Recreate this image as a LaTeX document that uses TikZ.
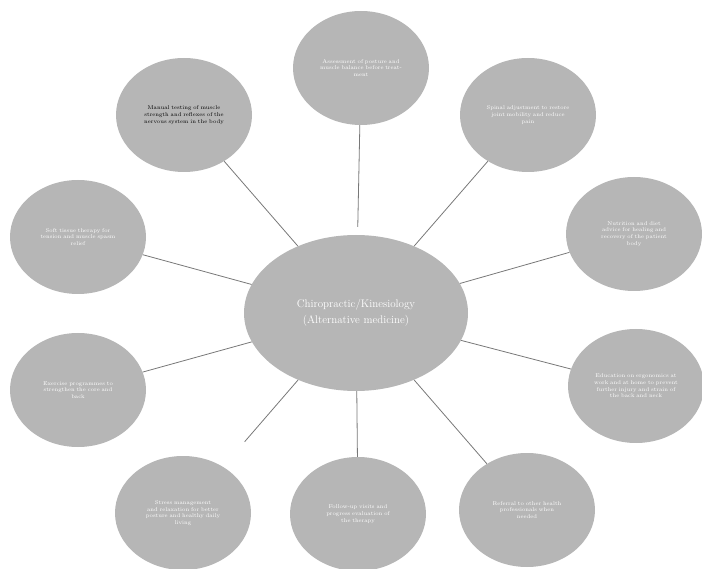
\documentclass[tikz,border=0pt]{standalone}
\usepackage{tikz}
\usetikzlibrary{shapes.geometric}
\definecolor{bubblegray}{RGB}{182,182,182}
\definecolor{linkgray}{RGB}{120,120,120}
\tikzset{
    bubble/.style={ellipse, fill=bubblegray, align=center, inner sep=0pt, minimum width=136pt, minimum height=114pt, text width=84pt, text=white, font=\fontsize{5.5}{6.7}\selectfont},
    hub/.style={bubble, minimum width=224pt, minimum height=156pt, text width=150pt, font=\fontsize{11}{16}\selectfont},
    link/.style={draw=linkgray, line width=0.8pt}
}

\begin{document}
\begin{tikzpicture}[x=1pt, y=-1pt]
            \useasboundingbox (0,0) rectangle (702,569);

            \node[hub] (hub) at (356,313) {Chiropractic/Kinesiology\\(Alternative medicine)};

            \node[bubble] (top) at (361,68) {Assessment of posture and\\muscle balance before treat-\\ment};
            \node[bubble, text=black] (topleft) at (184,115) {Manual testing of muscle\\strength and reflexes of the\\nervous system in the body};
            \node[bubble] (topright) at (528,115) {Spinal adjustment to restore\\joint mobility and reduce\\pain};
            \node[bubble] (left) at (78,237) {Soft tissue therapy for\\tension and muscle spasm\\relief};
            \node[bubble] (right) at (634,234) {Nutrition and diet\\advice for healing and\\recovery of the patient\\body};
            \node[bubble] (leftlow) at (78,390) {Exercise programmes to\\strengthen the core and\\back};
            \node[bubble] (rightlow) at (636,386) {Education on ergonomics at\\work and at home to prevent\\further injury and strain of\\the back and neck};
            \node[bubble] (botleft) at (183,513) {Stress management\\and relaxation for better\\posture and healthy daily\\living};
            \node[bubble] (botmid) at (358,514) {Follow-up visits and\\progress evaluation of\\the therapy};
            \node[bubble] (botright) at (527,510) {Referral to other health\\professionals when\\needed};

            \draw[link, shorten <=8pt] (hub) -- (top);
            \draw[link] (hub) -- (topleft);
            \draw[link] (hub) -- (topright);
            \draw[link] (hub) -- (left);
            \draw[link] (hub) -- (right);
            \draw[link] (hub) -- (leftlow);
            \draw[link] (hub) -- (rightlow);
            \draw[link, shorten >=33pt] (hub) -- (botleft);
            \draw[link] (hub) -- (botmid);
            \draw[link] (hub) -- (botright);
        \end{tikzpicture}
\end{document}
